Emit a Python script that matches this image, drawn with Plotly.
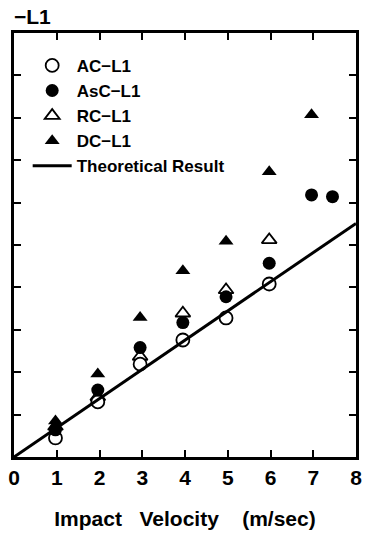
import plotly.graph_objects as go

# Measured response vs. impact velocity for four L1 specimen types
ac_x = [0.97, 1.96, 2.95, 3.95, 4.96, 5.97]
ac_y = [0.45, 1.30, 2.19, 2.76, 3.28, 4.08]

asc_x = [0.97, 1.96, 2.95, 3.95, 4.96, 5.97, 6.96, 7.45]
asc_y = [0.64, 1.58, 2.58, 3.17, 3.78, 4.57, 6.18, 6.14]

rc_x = [0.97, 1.96, 2.95, 3.95, 4.96, 5.97]
rc_y = [0.72, 1.42, 2.37, 3.39, 3.94, 5.12]

dc_x = [0.97, 1.96, 2.95, 3.95, 4.96, 5.97, 6.96]
dc_y = [0.85, 1.96, 3.29, 4.39, 5.09, 6.73, 8.07]

theory_x = [0, 8]
theory_y = [0, 5.51]

x_ticks = [0, 1, 2, 3, 4, 5, 6, 7, 8]
y_ticks = [1, 2, 3, 4, 5, 6, 7, 8, 9]

TEXT_FONT = "Liberation Sans, Arial, sans-serif"

fig = go.Figure()

# Open triangles go first so the filled circles sit on top of them
fig.add_trace(go.Scatter(
    x=rc_x, y=rc_y, mode="markers", name="RC−L1", legendrank=3,
    marker=dict(symbol="triangle-up", size=13, color="white",
                line=dict(color="black", width=1.8)),
))
fig.add_trace(go.Scatter(
    x=ac_x, y=ac_y, mode="markers", name="AC−L1", legendrank=1,
    marker=dict(symbol="circle", size=13, color="white",
                line=dict(color="black", width=1.8)),
))
fig.add_trace(go.Scatter(
    x=asc_x, y=asc_y, mode="markers", name="AsC−L1", legendrank=2,
    marker=dict(symbol="circle", size=13, color="black",
                line=dict(color="black", width=0)),
))
fig.add_trace(go.Scatter(
    x=dc_x, y=dc_y, mode="markers", name="DC−L1", legendrank=4,
    marker=dict(symbol="triangle-up", size=13, color="black",
                line=dict(color="black", width=0)),
))
fig.add_trace(go.Scatter(
    x=theory_x, y=theory_y, mode="lines", name="Theoretical Result", legendrank=5,
    line=dict(color="black", width=3),
))

axis_common = dict(
    showline=True, linecolor="black", linewidth=3, mirror="ticks",
    ticks="inside", ticklen=7, tickwidth=2, tickcolor="black",
    showgrid=False, zeroline=False, automargin=False,
)

fig.update_xaxes(
    range=[0, 8], tickvals=x_ticks, ticktext=[str(v) for v in x_ticks],
    tickfont=dict(family=TEXT_FONT, size=21, color="black", weight="bold"),
    title=dict(text="Impact   Velocity    (m/sec)",
               font=dict(family=TEXT_FONT, size=21, color="black", weight="bold"),
               standoff=24),
    **axis_common,
)
fig.update_yaxes(
    range=[0, 10], tickvals=y_ticks, showticklabels=False,
    **axis_common,
)

fig.add_annotation(
    text="<b>−L1</b>", xref="paper", yref="paper", x=0, y=1,
    xanchor="left", yanchor="bottom", yshift=3, xshift=-2, showarrow=False,
    font=dict(family=TEXT_FONT, size=21, color="black"),
)

fig.update_layout(
    width=369, height=536,
    margin=dict(l=14, r=13, t=33, b=79),
    paper_bgcolor="white", plot_bgcolor="white",
    showlegend=True,
    legend=dict(
        x=0.04, y=0.965, xanchor="left", yanchor="top",
        bgcolor="rgba(0,0,0,0)", borderwidth=0,
        font=dict(family=TEXT_FONT, size=17, color="black", weight="bold"),
        itemwidth=39, tracegroupgap=0,
        traceorder="normal",
    ),
)

fig.write_html("out.html")
